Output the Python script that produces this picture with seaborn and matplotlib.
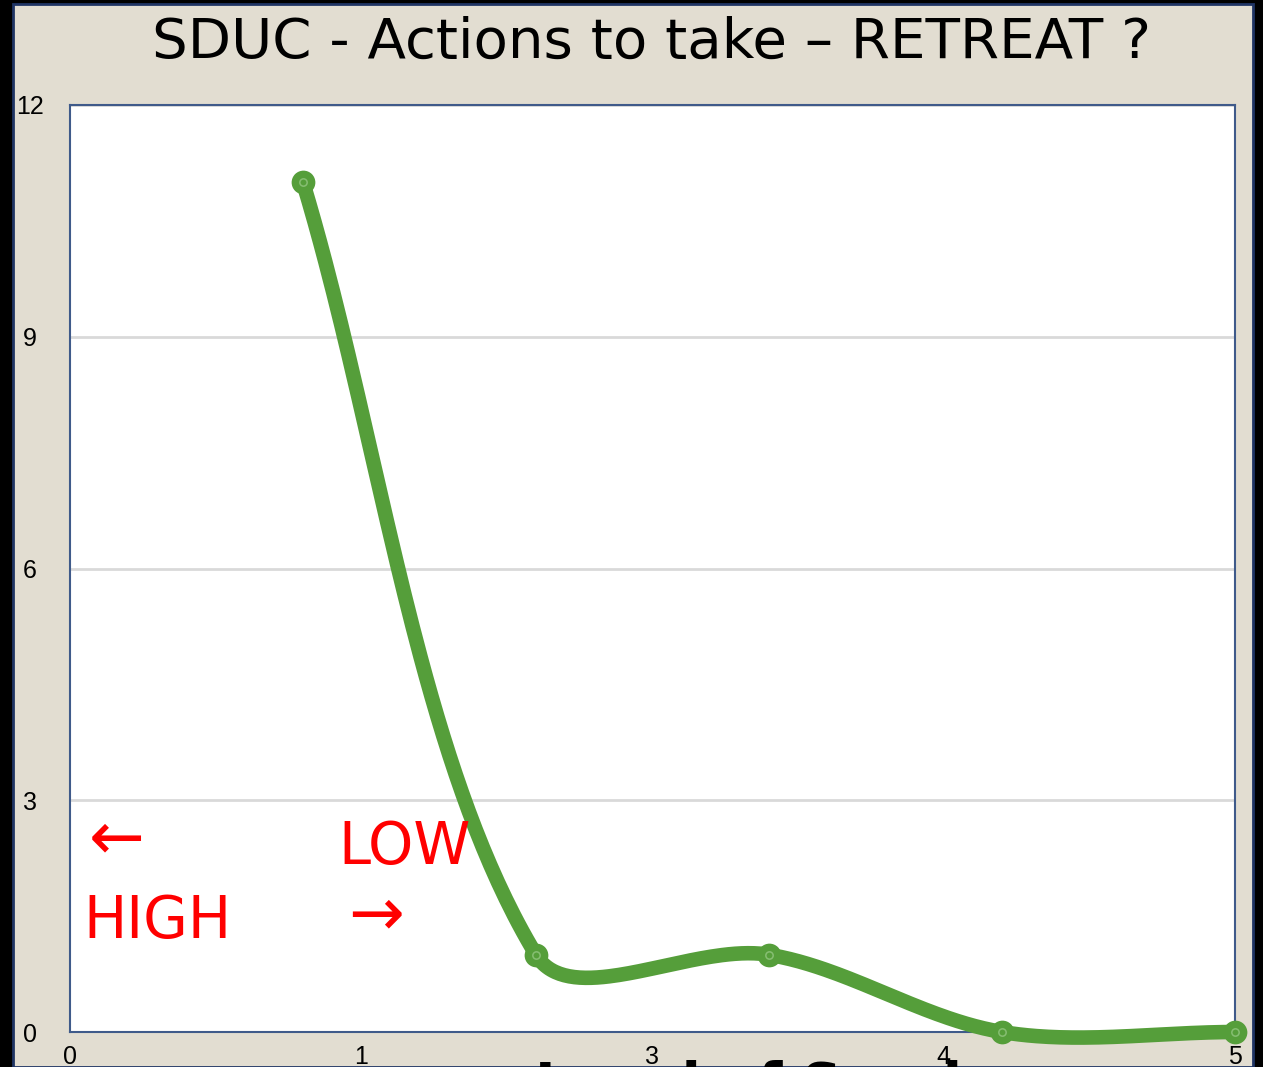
import numpy as np
import pandas as pd
import matplotlib
matplotlib.use("Agg")
import matplotlib.pyplot as plt
from matplotlib.patches import Rectangle
import seaborn as sns

# ---- data ----
x_pos = [0.8, 1.6, 2.4, 3.2, 4.0]
y_vals = [11, 1, 1, 0, 0]
x_tick_pos = [0, 1, 2, 3, 4]
x_tick_labels = ["0", "1", "3", "4", "5"]
y_ticks = [0, 3, 6, 9, 12]
title = "SDUC - Actions to take \u2013 RETREAT ?"
xlabel = "Level of Service"

sns.set_theme(style="white")
plt.rcParams['font.family'] = ['DejaVu Sans']

W, H = 1263, 1067
fig = plt.figure(figsize=(W / 100, H / 100), dpi=100, facecolor="black")

# beige panel with navy border
fig.patches.append(Rectangle((13 / W, 0), (1253 - 13) / W, 1 - 4 / H,
                             transform=fig.transFigure, facecolor="#E2DDD1",
                             edgecolor="#1F3464", linewidth=2, zorder=-5))

ax = fig.add_axes([70 / W, 1 - 1032 / H, (1235 - 70) / W, (1032 - 105) / H])
ax.set_zorder(2)
ax.set_facecolor("white")
ax.set_xlim(0, 4)
ax.set_ylim(0, 12)

# smoothed line (Excel-style Bezier smoothing through the data points,
# control points weighted by segment lengths in screen space)
P = np.column_stack([x_pos, y_vals]).astype(float)
Q = ax.transData.transform(P)
n = len(Q)
d = np.hypot(*np.diff(Q, axis=0).T)
inv = ax.transData.inverted()
curve = []
t = np.linspace(0, 1, 80)
for i in range(n - 1):
    q0, q3 = Q[i], Q[i + 1]
    if i == 0:
        c1 = q0 + (q3 - q0) / 3.0
    else:
        c1 = q0 + (Q[i + 1] - Q[i - 1]) * d[i] / (d[i - 1] + d[i]) / 3.0
    if i + 1 == n - 1:
        c2 = q3 - (q3 - q0) / 3.0
    else:
        c2 = q3 - (Q[i + 2] - Q[i]) * d[i] / (d[i] + d[i + 1]) / 3.0
    seg = ((1 - t) ** 3)[:, None] * q0 + (3 * (1 - t) ** 2 * t)[:, None] * c1 \
        + (3 * (1 - t) * t ** 2)[:, None] * c2 + (t ** 3)[:, None] * q3
    curve.append(seg if i == 0 else seg[1:])
curve = inv.transform(np.vstack(curve))
df_curve = pd.DataFrame({"x": curve[:, 0], "y": curve[:, 1]})
df_pts = pd.DataFrame({"x": x_pos, "y": y_vals})

green = "#559E3A"
sns.lineplot(data=df_curve, x="x", y="y", sort=False, color=green,
             linewidth=10.5, ax=ax, clip_on=False, zorder=3,
             solid_capstyle="round")
sns.scatterplot(data=df_pts, x="x", y="y", color=green, s=250,
                edgecolor=green, ax=ax, clip_on=False, zorder=4)
sns.scatterplot(data=df_pts, x="x", y="y", color=green, s=28,
                edgecolor="#86BE72", linewidth=1.1, ax=ax, clip_on=False, zorder=5)

ax.set_xlim(0, 4)
ax.set_ylim(0, 12)
ax.set_xticks(x_tick_pos)
ax.set_xticklabels(x_tick_labels)
ax.set_yticks(y_ticks)
ax.set_xlabel("")
ax.set_ylabel("")
ax.grid(axis="y", color="#D9D9D9", linewidth=2)
ax.grid(axis="x", visible=False)
ax.tick_params(axis="both", length=0, labelsize=18, colors="black")
ax.tick_params(axis="y", pad=29)
ax.tick_params(axis="x", pad=9)
for lab in ax.get_xticklabels() + ax.get_yticklabels():
    lab.set_family(['Liberation Sans Narrow', 'Liberation Sans', 'DejaVu Sans'])
for lab in ax.get_yticklabels():
    lab.set_horizontalalignment("center")
for s in ax.spines.values():
    s.set_color("#3F5A8A")
    s.set_linewidth(1.5)
    s.set_visible(True)

# title
fig.text(652 / W, 1 - 43 / H, title, ha="center", va="center",
         fontsize=40.5, color="black")

# red annotations
red = "#FF0000"
ax.text(0.160, 2.49, "\u2190", color=red, fontsize=48, ha="center", va="center")
ax.text(1.15, 2.175, "LOW", color=red, fontsize=41.5, ha="center", va="baseline")
ax.text(0.30, 1.217, "HIGH", color=red, fontsize=41.5, ha="center", va="baseline")
ax.text(1.05, 1.51, "\u2192", color=red, fontsize=48, ha="center", va="center")

# x axis title, mostly cut off at the bottom
fig.text(535 / W, 1 - 1060 / H, xlabel, ha="left", va="top",
         fontsize=40, fontweight="bold", color="black", zorder=-1)

fig.savefig("out.png", dpi=100, facecolor="black")
